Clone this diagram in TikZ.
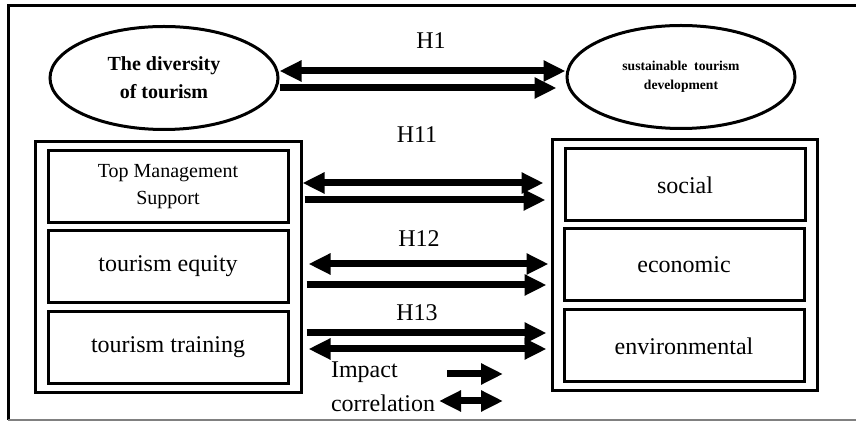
\documentclass[tikz,border=0pt]{standalone}
\usepackage{fontspec}
\setmainfont{Liberation Serif}
\usetikzlibrary{shapes.geometric,arrows.meta}
\tikzset{
  oval/.style={ellipse,draw,line width=1.5pt,minimum width=114pt,minimum height=51.5pt,align=center,inner sep=0pt},
  item/.style={draw,line width=1.5pt,minimum width=120pt,minimum height=36pt,align=center,font=\fontsize{12}{14}\selectfont},
  group/.style={draw,line width=1.5pt,minimum width=133pt,minimum height=125.5pt},
  hlab/.style={font=\fontsize{12}{14}\selectfont},
  impact/.style={line width=3.5pt,-{Triangle[length=11pt,width=10pt]}},
  corr/.style={line width=3.5pt,{Triangle[length=11pt,width=10pt]}-{Triangle[length=11pt,width=10pt]}}
}
\begin{document}
\begin{tikzpicture}[x=0.5pt,y=-0.5pt]
		\useasboundingbox (0,0) rectangle (856,421);
		% frame
		\draw[line width=1.5pt] (856,6) -- (8,6) -- (8,420);
		\draw[gray,line width=1pt] (8,420) -- (856,420);
		
		\node[oval,font=\fontsize{10}{14}\selectfont\bfseries] (div) at (164,78) {The diversity\\of tourism};
		\node[oval,font=\fontsize{6.8}{9.5}\selectfont\bfseries] (std) at (681,77) {sustainable\ \ tourism\\development};
		\node[hlab] (h1) at (431,41) {H1};
		\draw[corr] (div.east |- 0,71) -- (std.west |- 0,71);
		\draw[impact] (div.east |- 0,88) -- ([xshift=-4.5pt]std.west |- 0,88);
		
		\node[group] (lout) at (168,267.5) {};
		\node[group,minimum width=132.5pt] (rout) at (684.5,265.5) {};
		
		\node[item,font=\fontsize{10}{13.5}\selectfont] (tms) at (168,187) {Top Management\\Support};
		\node[item] (equ) at (168,266.5) {tourism equity};
		\node[item] (trn) at (168,347.5) {tourism training};
		\node[item] (soc) at (685,185) {social};
		\node[item] (eco) at (684,265) {economic};
		\node[item] (env) at (684,346) {environmental};
		
		\node[hlab] (h11) at (417,135) {H11};
		\node[hlab] (h12) at (419,239) {H12};
		\node[hlab] (h13) at (417,313) {H13};
		
		\draw[corr] (lout.east |- 0,183) -- ([xshift=-3.5pt]rout.west |- 0,183);
		\draw[impact] ([xshift=1pt]lout.east |- 0,200) -- ([xshift=-2.5pt]rout.west |- 0,200);
		\draw[corr] ([xshift=3pt]lout.east |- 0,264) -- ([xshift=-1pt]rout.west |- 0,264);
		\draw[impact] ([xshift=2pt]lout.east |- 0,285) -- ([xshift=-2pt]rout.west |- 0,285);
		\draw[impact] ([xshift=2pt]lout.east |- 0,333) -- ([xshift=-2pt]rout.west |- 0,333);
		\draw[corr] ([xshift=3pt]lout.east |- 0,349) -- ([xshift=-2pt]rout.west |- 0,349);
		
		% legend
		\node[hlab,anchor=west] (imp) at (324,372) {Impact};
		\node[hlab,anchor=west] (cor) at (324,403) {correlation};
		\coordinate (ia) at (447,374);
		\coordinate (ib) at (503,374);
		\coordinate (ca) at (439,401);
		\coordinate (cb) at (503,401);
		\draw[impact] (ia) -- (ib);
		\draw[corr] (ca) -- (cb);
\end{tikzpicture}
\end{document}
